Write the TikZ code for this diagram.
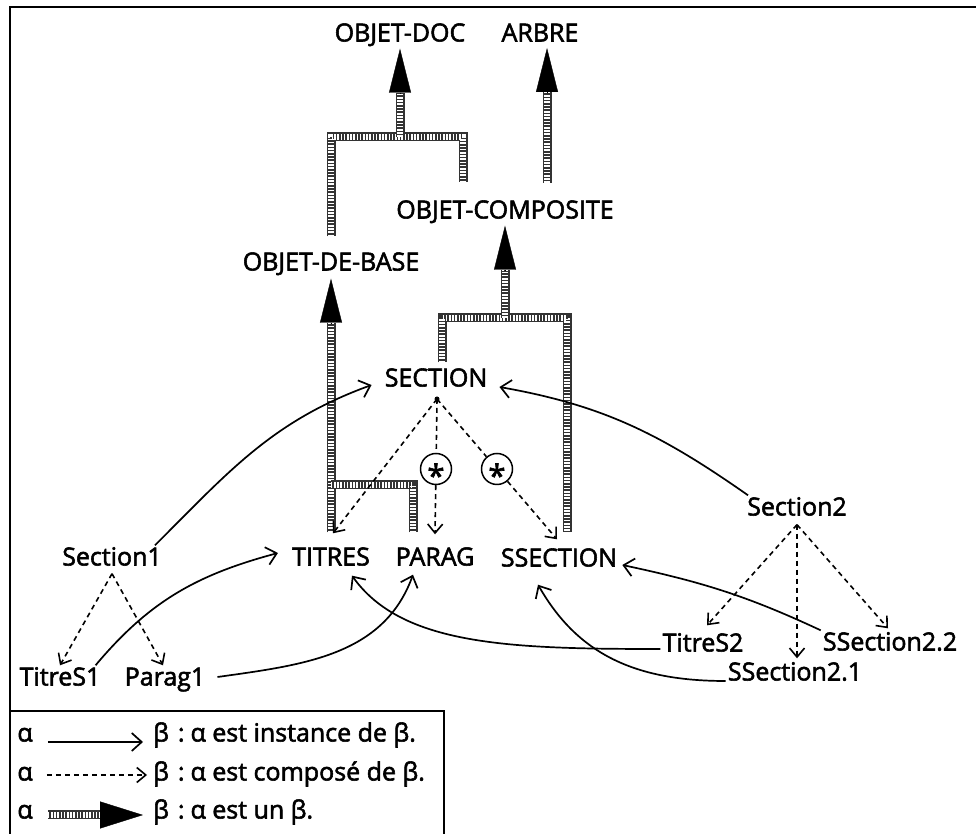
\documentclass[tikz,border=0pt]{standalone}
\usepackage{fontspec}
\setmainfont{Open Sans}[FakeBold=2.2]
\usepackage{tikz}
\usetikzlibrary{arrows.meta}

\begin{document}
\begin{tikzpicture}[
  x=1pt,y=1pt,
  lbl/.style={inner sep=2pt,text height=18pt,text depth=1pt,font=\fontsize{25}{30}\selectfont},
  star/.style={circle,draw,line width=1.5pt,minimum size=31pt,inner sep=0pt,fill=white,
               font=\fontsize{31}{31}\selectfont},
  inst/.style={line width=1.7pt,-{Straight Barb[length=10pt,width=18pt]}},
  comp/.style={line width=1.6pt,dash pattern=on 5pt off 4pt,-{Straight Barb[length=9pt,width=15pt]}},
  isa/.style={line width=9pt,draw=black!80,line join=miter,
              postaction={draw=white,line width=6.6pt,dash pattern=on 1.6pt off 1.6pt},
              postaction={draw=black!80,line width=2.6pt,dash pattern=on 1.6pt off 1.6pt,dash phase=1.6pt}},
  isahead/.style={line width=0.4pt,-{Triangle[length=44pt,width=22pt]}},
  frame/.style={line width=2.5pt}
]
  \useasboundingbox (0,0) rectangle (976,834);
  \draw[frame] (10,0) -- (10,827) -- (976,827);
  \draw[frame] (10,123) -- (444,123) -- (444,0);

  \node[lbl] (doc)       at (400,801) {OBJET-DOC};
  \node[lbl] (arbre)     at (540,801) {ARBRE};
  \node[lbl] (composite) at (505,624) {OBJET-COMPOSITE};
  \node[lbl] (base)      at (331,572) {OBJET-DE-BASE};
  \node[lbl] (section)   at (436,456) {SECTION};
  \node[lbl] (titres)    at (331,277) {TITRES};
  \node[lbl] (parag)     at (435,277) {PARAG};
  \node[lbl] (ssection)  at (559,276) {SSECTION};
  \node[lbl] (section1)  at (112,277) {Section1};
  \node[lbl] (section2)  at (797,327) {Section2};
  \node[lbl] (titreS1)   at (60,157)  {TitreS1};
  \node[lbl] (parag1)    at (165,157) {Parag1};
  \node[lbl] (titreS2)   at (703,191) {TitreS2};
  \node[lbl] (ssection21) at (795,162) {SSection2.1};
  \node[lbl] (ssection22) at (890,192) {SSection2.2};
  \node[star] (starA) at (436,365) {\smash{\raisebox{-0.58em}{*}}};
  \node[star] (starB) at (497,365) {\smash{\raisebox{-0.58em}{*}}};
  \coordinate (secdot) at (437,435);
  \fill (secdot) circle (2.5pt);

  % est-un
  \draw[isa] ([yshift=14pt]base.north) |- (463,697) -- ([xshift=-42pt,yshift=16pt]composite.north);
  \draw[isa] (doc.south |- 0,697) -- ([yshift=-48pt]doc.south);
  \draw[isahead] ([yshift=-48pt]doc.south) -- ([yshift=-4pt]doc.south);
  \draw[isa] (547,651) -- (547,742);
  \draw[isahead] (547,742) -- (547,786);
  \draw[isa] ([xshift=6pt,yshift=4pt]section.north) |- (567,516) -- ([xshift=8pt,yshift=14pt]ssection.north);
  \draw[isa] (composite.south |- 0,516) -- ([yshift=-48pt]composite.south);
  \draw[isahead] ([yshift=-48pt]composite.south) -- ([yshift=-4pt]composite.south);
  \draw[isa] ([yshift=13pt]titres.north) -- ([yshift=-49pt]base.south);
  \draw[isahead] ([yshift=-49pt]base.south) -- ([yshift=-5pt]base.south);
  \draw[isa] ([xshift=-22pt,yshift=13pt]parag.north) |- (331,349);

  % compose de
  \draw[comp] (secdot) -- ([xshift=2pt,yshift=12pt]titres.north);
  \draw[comp,-] (secdot) -- (starA);
  \draw[comp,-] (secdot) -- (starB);
  \draw[comp] (starA) -- ([yshift=11pt]parag.north);
  \draw[comp] (starB) -- ([xshift=-2pt,yshift=7pt]ssection.north);
  \draw[comp] ([yshift=-5pt]section1.south) -- (titreS1.north);
  \draw[comp] ([yshift=-5pt]section1.south) -- ([xshift=-2pt]parag1.north);
  \draw[comp] ([yshift=-6pt]section2.south) -- ([xshift=4pt,yshift=6pt]titreS2.north);
  \draw[comp] ([yshift=-6pt]section2.south) -- ([xshift=2pt,yshift=2pt]ssection21.north);
  \draw[comp] ([yshift=-6pt]section2.south) -- ([xshift=-2pt,yshift=2pt]ssection22.north);

  % instance de
  \draw[inst] ([xshift=-9pt]section1.north east) to[out=45,in=200] ([xshift=-11pt,yshift=-7pt]section.west);
  \draw[inst] ([xshift=3pt]section2.north west) to[out=145,in=-10] ([xshift=10pt,yshift=-9pt]section.east);
  \draw[inst] ([xshift=-7pt]titreS1.north east) to[out=50,in=195] ([xshift=-12pt,yshift=4pt]titres.west);
  \draw[inst] ([xshift=10pt]parag1.east) to[out=8,in=250] ([xshift=-22pt,yshift=-6pt]parag.south);
  \draw[inst] ([yshift=-6pt]titreS2.west) .. controls +(-150,0) and +(50,-70) .. ([xshift=21pt,yshift=-7pt]titres.south);
  \draw[inst] ([yshift=-9pt]ssection21.west) .. controls +(-90,0) and +(40,-70) .. ([xshift=-21pt,yshift=-15pt]ssection.south);
  \draw[inst] (ssection22.north west) to[out=155,in=-12] ([xshift=3pt,yshift=-7pt]ssection.east);

  % legende
  \node[lbl] (a1) at (25,101) {α};
  \node[lbl,anchor=west] (b1) at (151,101) {β\hspace{9pt}:\hspace{6pt}α est instance de β.};
  \node[lbl] (a2) at (25,62) {α};
  \node[lbl,anchor=west] (b2) at (151,62) {β\hspace{9pt}:\hspace{6pt}α est composé de β.};
  \node[lbl] (a3) at (25,24) {α};
  \node[lbl,anchor=west] (b3) at (151,24) {β\hspace{9pt}:\hspace{6pt}α est un β.};
  \draw[inst] ([xshift=13pt,yshift=-9pt]a1.east) -- ([xshift=-8pt,yshift=-9pt]b1.west);
  \draw[comp] ([xshift=12pt,yshift=-3pt]a2.east) -- ([xshift=-4pt,yshift=-3pt]b2.west);
  \draw[isa] ([xshift=13pt,yshift=-5pt]a3.east) -- ([xshift=-51pt,yshift=-5pt]b3.west);
  \draw[-{Triangle[length=43pt,width=27pt]}] ([xshift=-51pt,yshift=-5pt]b3.west) -- ([xshift=-8pt,yshift=-5pt]b3.west);
\end{tikzpicture}
\end{document}
